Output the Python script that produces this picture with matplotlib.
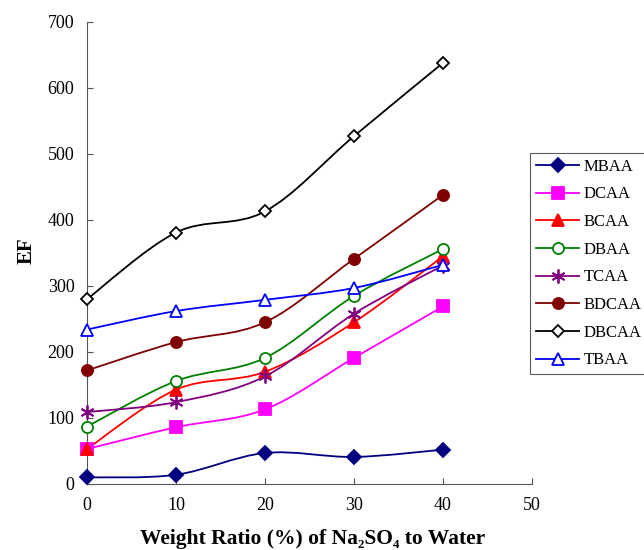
import numpy as np
import matplotlib
matplotlib.use('Agg')
import matplotlib.pyplot as plt
from matplotlib.path import Path
from matplotlib.patches import PathPatch
from matplotlib.lines import Line2D

plt.rcParams['font.family'] = ['Liberation Serif', 'DejaVu Serif']

ratio = [0, 10, 20, 30, 40]

mbaa = [10, 14, 47, 41, 52]
dcaa = [53, 86, 113, 191, 269]
bcaa = [53, 143, 170, 245, 345]
dbaa = [87, 156, 191, 285, 356]
tcaa = [109, 124, 163, 258, 331]
bdcaa = [172, 215, 245, 341, 438]
dbcaa = [280, 381, 413, 527, 638]
tbaa = [234, 262, 279, 297, 332]

names = ['MBAA', 'DCAA', 'BCAA', 'DBAA', 'TCAA', 'BDCAA', 'DBCAA', 'TBAA']
series = [mbaa, dcaa, bcaa, dbaa, tcaa, bdcaa, dbcaa, tbaa]
colors = ['#000080', '#ff00ff', '#ff0000', '#008000', '#800080', '#800000', '#000000', '#0000ff']
markers = ['D', 's', '^', 'o', (6, 2, 0), 'o', 'D', '^']
filled = [True, True, True, False, True, True, False, False]
msizes = [7, 8, 8, 8, 10, 8, 6, 8]


def smooth_path(x, y):
    # catmull-rom style bezier through the points, like excel smoothed lines
    pts = np.column_stack([x, y]).astype(float)
    n = len(pts)
    verts = [pts[0]]
    codes = [Path.MOVETO]
    for i in range(n - 1):
        p0 = pts[i - 1] if i > 0 else pts[i]
        p1 = pts[i]
        p2 = pts[i + 1]
        p3 = pts[i + 2] if i + 2 < n else pts[i + 1]
        c1 = p1 + (p2 - p0) / 6.0
        c2 = p2 - (p3 - p1) / 6.0
        verts += [c1, c2, p2]
        codes += [Path.CURVE4] * 3
    return Path(verts, codes)


fig = plt.figure(figsize=(6.44, 5.5), dpi=100)
ax = fig.add_axes([0.135, 0.12, 0.691, 0.84])

handles = []
for name, vals, c, m, f, ms in zip(names, series, colors, markers, filled, msizes):
    ax.add_patch(PathPatch(smooth_path(ratio, vals), facecolor='none', edgecolor=c, lw=1.3, zorder=2))
    fc = c if f else 'white'
    ax.plot(ratio, vals, linestyle='none', marker=m, markersize=ms, markerfacecolor=fc,
            markeredgecolor=c, markeredgewidth=1.3, zorder=3, clip_on=False)
    handles.append(Line2D([], [], color=c, lw=1.3, marker=m, markersize=ms,
                          markerfacecolor=fc, markeredgecolor=c, markeredgewidth=1.3, label=name))

ax.set_xlim(0, 50)
ax.set_ylim(0, 700)
ax.set_xticks([0, 10, 20, 30, 40, 50])
ax.set_yticks(range(0, 701, 100))
ax.spines['top'].set_visible(False)
ax.spines['right'].set_visible(False)
for s in ['left', 'bottom']:
    ax.spines[s].set_color('#555555')
ax.tick_params(labelsize=13, color='#555555', length=4, direction='in')
ax.tick_params(axis='x', pad=9)
ax.tick_params(axis='y', pad=9)

ax.set_xlabel('Weight Ratio (%) of Na\u2082SO\u2084 to Water', fontsize=15.5, fontweight='bold')
ax.xaxis.set_label_coords(0.508, -0.097)
ax.set_ylabel('EF', fontsize=15, fontweight='bold')
ax.yaxis.set_label_coords(-0.112, 0.506)

leg = fig.legend(handles=handles, loc='upper left', bbox_to_anchor=(0.823, 0.722),
                 fontsize=12, frameon=True, fancybox=False, edgecolor='#333333',
                 handlelength=2.6, labelspacing=0.7, borderpad=0.35, handletextpad=0.25,
                 borderaxespad=0)
leg.get_frame().set_linewidth(0.8)

fig.savefig('out.png', dpi=100)
